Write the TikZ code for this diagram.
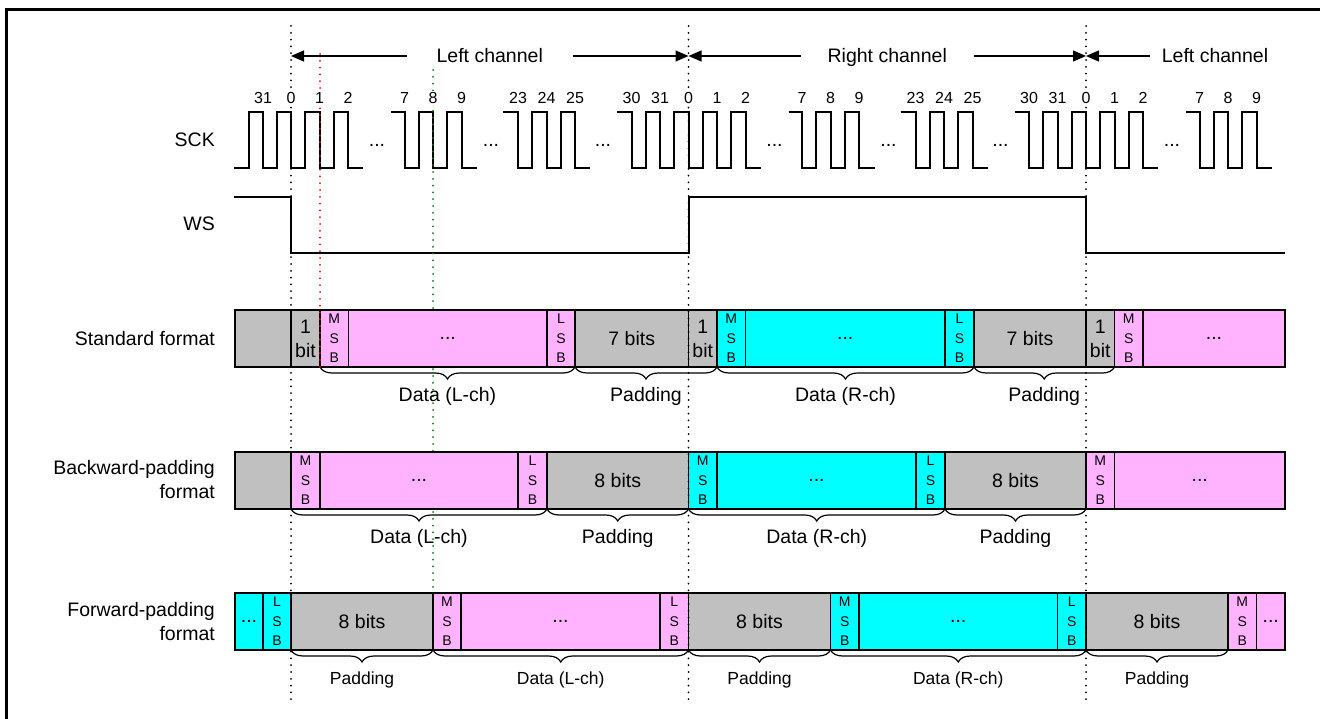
\documentclass[tikz,border=0pt]{standalone}
\usepackage{fontspec}
\setmainfont{Liberation Sans}
\usetikzlibrary{arrows.meta,decorations.pathreplacing}

\definecolor{padgray}{RGB}{192,192,192}
\definecolor{lchpink}{RGB}{255,179,255}
\definecolor{rchcyan}{RGB}{0,255,255}
\definecolor{markgreen}{RGB}{0,128,0}
\newcommand{\ellip}{...}

\tikzset{
  wave/.style={line width=2pt},
  blk/.style={draw, line width=1.2pt, minimum height=57pt, inner sep=0pt, outer sep=0pt, align=center},
  gbox/.style={blk, fill=padgray},
  pbox/.style={blk, fill=lchpink},
  cbox/.style={blk, fill=rchcyan},
  pbit/.style={pbox, font=\fontsize{14}{19.5}\selectfont},
  cbit/.style={cbox, font=\fontsize{14}{19.5}\selectfont},
  rowlabel/.style={anchor=east, align=right, inner sep=0pt},
  bitnum/.style={anchor=base, fill=white, inner sep=1pt, font=\fontsize{16}{19}\selectfont},
  gapdots/.style={inner sep=0pt},
  chlabel/.style={anchor=base, inner ysep=0pt, inner xsep=30pt, outer sep=0pt},
  charrow/.style={line width=1.2pt, -{Triangle[length=13pt,width=11pt]}},
  chdiv/.style={line width=2pt, line cap=round, dash pattern=on 0pt off 6.8pt},
  datbrace/.style={decorate, decoration={brace, mirror, amplitude=12pt}, line width=1.2pt},
  brlabel/.style={midway, anchor=base, yshift=-34pt},
  fbrlabel/.style={brlabel, font=\fontsize{17.5}{21}\selectfont},
}

\begin{document}
\begin{tikzpicture}[x=1pt, y=-1pt, font=\fontsize{19.5}{24}\selectfont]
\useasboundingbox (0,0) rectangle (1320,719);
\draw[line width=3pt] (6,719) -- (6,9.5) -- (1320,9.5);

% row labels
\node[rowlabel] (sck) at (215,140) {SCK};
\node[rowlabel] (ws) at (215,224) {WS};
\node[rowlabel] (stdfmt) at (215,338.5) {Standard format};
\node[rowlabel] (bwdfmt) at (215,479.5) {Backward-padding\\format};
\node[rowlabel] (fwdfmt) at (215,621.5) {Forward-padding\\format};

% SCK
\draw[wave] (234,168) \foreach \f in {263,291,319.5,348} {-- (\f-14.25,168) -- (\f-14.25,112) -- (\f,112) -- (\f,168)} -- (363,168);
\foreach \c in {291,688.5} {
  \draw[wave] (\c+100,112) -- (\c+113.5,112) -- (\c+113.5,168) \foreach \f in {142,170.5} {-- (\c+\f-14.25,168) -- (\c+\f-14.25,112) -- (\c+\f,112) -- (\c+\f,168)} -- (\c+186,168);
  \draw[wave] (\c+212,112) -- (\c+227,112) -- (\c+227,168) \foreach \f in {255.5,284} {-- (\c+\f-14.25,168) -- (\c+\f-14.25,112) -- (\c+\f,112) -- (\c+\f,168)} -- (\c+299,168);
  \draw[wave] (\c+326,112) -- (\c+340.5,112) -- (\c+340.5,168) \foreach \f in {369,397.5,426,454.5} {-- (\c+\f-14.25,168) -- (\c+\f-14.25,112) -- (\c+\f,112) -- (\c+\f,168)} -- (\c+469.5,168);
}
\draw[wave] (1186,112) -- (1199.5,112) -- (1199.5,168) \foreach \f in {1228,1256.5} {-- (\f-14.25,168) -- (\f-14.25,112) -- (\f,112) -- (\f,168)} -- (1272,168);

% WS
\draw[wave] (234,197) -- (291,197) -- (291,253) -- (688.5,253) -- (688.5,197) -- (1086,197) -- (1086,253) -- (1285,253);

\draw[chdiv, markgreen] (433,70) -- (433,593);

% standard format
\foreach \nm/\st/\xa/\xb/\tx in {s1/gbox/235/291/{}, s2/gbox/291/320/{1\\bit}, s3/pbit/320/348.5/{M\\S\\B},
    s4/pbox/348.5/547/{\ellip}, s5/pbit/547/575/{L\\S\\B}, s6/gbox/575/688.5/{7 bits}, s7/gbox/688.5/717/{1\\bit},
    s8/cbit/717/745.5/{M\\S\\B}, s9/cbox/745.5/945/{\ellip}, s10/cbit/945/974/{L\\S\\B}, s11/gbox/974/1086/{7 bits},
    s12/gbox/1086/1114.5/{1\\bit}, s13/pbit/1114.5/1143/{M\\S\\B}, s14/pbox/1143/1285/{\ellip}}
  \node[\st, minimum width=(\xb-\xa)*1pt] (\nm) at ({(\xa+\xb)/2},338.5) {\tx};

% backward-padding format
\foreach \nm/\st/\xa/\xb/\tx in {b1/gbox/235/291/{}, b2/pbit/291/320/{M\\S\\B}, b3/pbox/320/518/{\ellip},
    b4/pbit/518/547/{L\\S\\B}, b5/gbox/547/688.5/{8 bits}, b6/cbit/688.5/717/{M\\S\\B}, b7/cbox/717/916/{\ellip},
    b8/cbit/916/945/{L\\S\\B}, b9/gbox/945/1086/{8 bits}, b10/pbit/1086/1114.5/{M\\S\\B}, b11/pbox/1114.5/1285/{\ellip}}
  \node[\st, minimum width=(\xb-\xa)*1pt] (\nm) at ({(\xa+\xb)/2},480.5) {\tx};

% forward-padding format
\foreach \nm/\st/\xa/\xb/\tx in {f1/cbox/235/263/{\ellip}, f2/cbit/263/291/{L\\S\\B}, f3/gbox/291/433/{8 bits},
    f4/pbit/433/461/{M\\S\\B}, f5/pbox/461/660/{\ellip}, f6/pbit/660/688.5/{L\\S\\B}, f7/gbox/688.5/830.5/{8 bits},
    f8/cbit/830.5/859/{M\\S\\B}, f9/cbox/859/1057.5/{\ellip}, f10/cbit/1057.5/1086/{L\\S\\B}, f11/gbox/1086/1228/{8 bits},
    f12/pbit/1228/1256.5/{M\\S\\B}, f13/pbox/1256.5/1285/{\ellip}}
  \node[\st, minimum width=(\xb-\xa)*1pt] (\nm) at ({(\xa+\xb)/2},621.5) {\tx};

% braces
\foreach \ba/\bb/\tx in {s3/s5/{Data (L-ch)}, s6/s7/{Padding}, s8/s10/{Data (R-ch)}, s11/s12/{Padding},
    b2/b4/{Data (L-ch)}, b5/b5/{Padding}, b6/b8/{Data (R-ch)}, b9/b9/{Padding}}
  \draw[datbrace] (\ba.south west) -- node[brlabel] (br\ba) {\tx} (\bb.south east);
\foreach \ba/\bb/\tx in {f3/f3/{Padding}, f4/f6/{Data (L-ch)}, f7/f7/{Padding}, f8/f10/{Data (R-ch)}, f11/f11/{Padding}}
  \draw[datbrace] (\ba.south west) -- node[fbrlabel] (br\ba) {\tx} (\bb.south east);

% channel borders
\foreach \x in {291,688.5,1086} \draw[chdiv] (\x,26) -- (\x,705);
\draw[chdiv, red] (320,54) -- (320,367);

% bit numbers
\node[bitnum] (n0-31) at (263,103.5) {31};
\foreach \c [count=\k] in {291,688.5,1086}
  \foreach \t/\dx in {0/0,1/28.5,2/57,7/113.5,8/142,9/170.5}
    \node[bitnum] (n\k-\t) at (\c+\dx,103.5) {\t};
\foreach \c [count=\k] in {291,688.5}
  \foreach \t/\dx in {23/227,24/255.5,25/284,30/340.5,31/369}
    \node[bitnum] (n\k-\t) at (\c+\dx,103.5) {\t};
\foreach \c [count=\k] in {291,688.5}
  \foreach \dx [count=\j] in {86,200,312}
    \node[gapdots] (g\k-\j) at (\c+\dx,145) {\ellip};
\node[gapdots] (g3-1) at (1172,145) {\ellip};

% channels
\coordinate (d1) at (291,56);
\coordinate (d2) at (688.5,56);
\coordinate (d3) at (1086,56);
\node[chlabel] (lch1) at (489.75,62.5) {Left channel};
\node[chlabel, inner xsep=27pt] (rch) at (887.25,62.5) {Right channel};
\node[chlabel, inner xsep=12pt] (lch2) at (1215,62.5) {Left channel};
\draw[charrow] (lch1.west |- d1) -- (d1);
\draw[charrow] (lch1.east |- d1) -- (d2);
\draw[charrow] (rch.west |- d2) -- (d2);
\draw[charrow] (rch.east |- d2) -- (d3);
\draw[charrow] (lch2.west |- d3) -- (d3);
\end{tikzpicture}
\end{document}
